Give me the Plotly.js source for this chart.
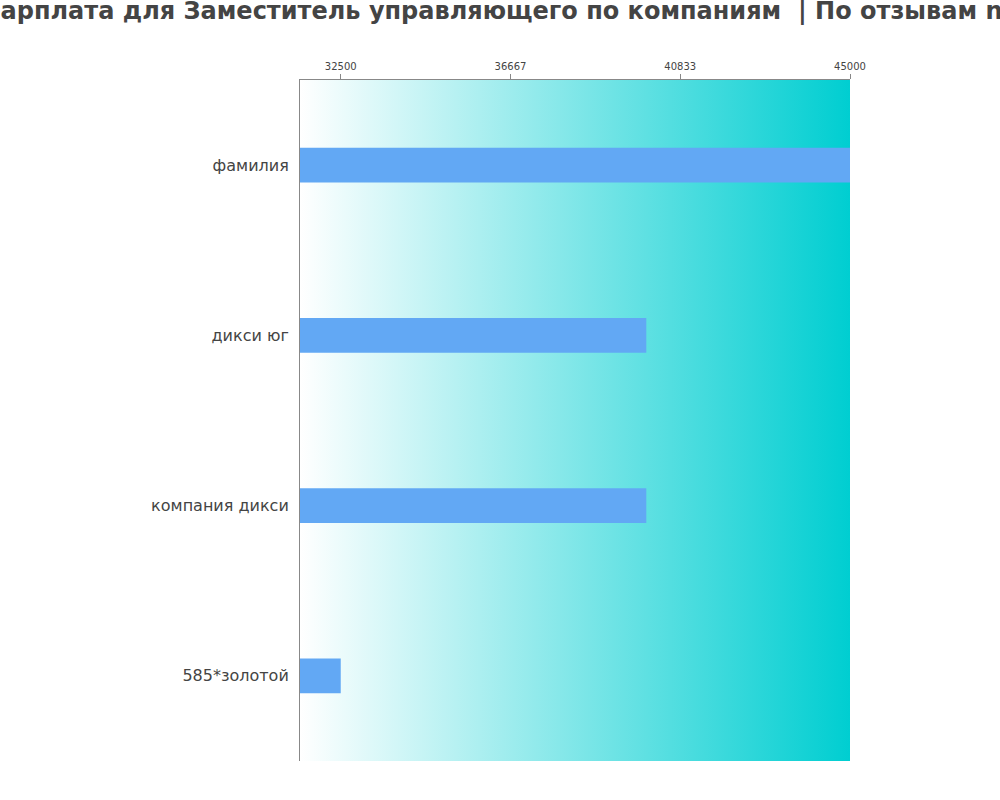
<!DOCTYPE html>
<html>
<head>
<meta charset="utf-8">
<script src="https://cdn.plot.ly/plotly-3.0.1.min.js"></script>
<style>
  body { margin: 0; background: #fff; }
  #plot { width: 1000px; height: 800px; }
</style>
</head>
<body>
<div id="plot"></div>
<script>
// chart data
//
const companies = ['585*золотой', 'компания дикси', 'дикси юг', 'фамилия'];
const salaries = [32500, 40000, 40000, 45000];
const tickValues = [32500, 36667, 40833, 45000];
const tickLabels = ['32500', '36667', '40833', '45000'];

// gradient background for the plot area
//
const gradSvg =
  '<svg xmlns="http://www.w3.org/2000/svg" width="100" height="100" preserveAspectRatio="none">' +
  '<defs><linearGradient id="g" x1="0" y1="0" x2="1" y2="0">' +
  '<stop offset="0" stop-color="#ffffff"/><stop offset="1" stop-color="#00CED1"/>' +
  '</linearGradient></defs><rect width="100" height="100" fill="url(#g)"/></svg>';

const trace = {
  type: 'bar',
  orientation: 'h',
  x: salaries,
  y: companies,
  width: 0.205,
  marker: { color: '#62A8F4' },
  hoverinfo: 'none'
};

const layout = {
  width: 1000,
  height: 800,
  paper_bgcolor: '#ffffff',
  plot_bgcolor: 'rgba(0,0,0,0)',
  font: { family: 'DejaVu Sans', color: '#444' },
  title: {
    text: 'Зарплата для Заместитель управляющего по компаниям  | По отзывам n',
    font: { family: 'DejaVu Sans', size: 24, color: '#444', weight: 'bold' },
    x: 0.493,
    xanchor: 'center',
    y: 0.997,
    yanchor: 'top'
  },
  margin: { l: 300, r: 150, t: 80, b: 39 },
  showlegend: false,
  xaxis: {
    side: 'top',
    range: [31500, 45000],
    tickvals: tickValues,
    ticktext: tickLabels,
    ticks: 'outside',
    ticklen: 5,
    tickcolor: '#888',
    tickfont: { size: 10, color: '#444' },
    showgrid: false,
    zeroline: false,
    showline: true,
    linecolor: '#888',
    linewidth: 1
  },
  yaxis: {
    type: 'category',
    categoryorder: 'array',
    categoryarray: companies,
    ticks: '',
    ticklabelstandoff: 7,
    tickfont: { size: 16, color: '#444' },
    showgrid: false,
    zeroline: false,
    showline: true,
    linecolor: '#888',
    linewidth: 1
  },
  images: [{
    source: 'data:image/svg+xml;base64,' + btoa(gradSvg),
    xref: 'paper',
    yref: 'paper',
    x: 0,
    y: 1,
    sizex: 1,
    sizey: 1,
    sizing: 'stretch',
    layer: 'below'
  }]
};

Plotly.newPlot('plot', [trace], layout, { displayModeBar: false, staticPlot: true });
</script>
</body>
</html>
